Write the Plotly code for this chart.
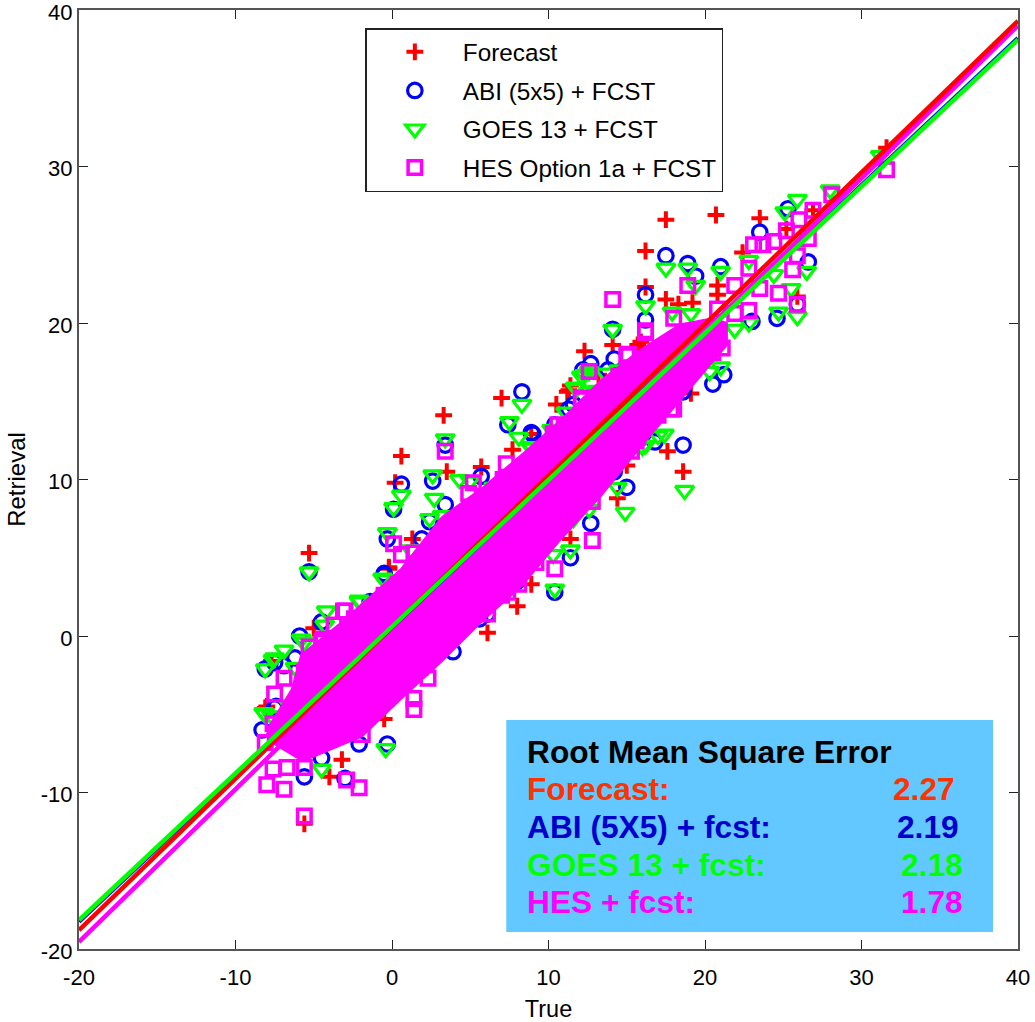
import plotly.graph_objects as go

# Hand-read outliers (true, retrieval) per series
forecast_x = [31.6,17.5,20.7,23.5,16.2,16.2,12.3,14.1,19.1,17.6,18.6,14.4,7.0,3.3,0.6,0.2,-5.3,6.1,8.0,8.9,3.5,5.7,7.7,10.5,11.3,8.9,1.3,-0.2,15.0,11.4,3.6,2.0,17.5,18.3,19.2,20.8,20.8,15.7,11.2,11.4,22.4,25.9,25.2,26.9,-0.5,-3.2,-4.0,-5.6,-8.1,-5.0,-7.7,-0.2,-8.0,2.2,15.9,13.2]
forecast_y = [31.2,26.6,26.9,26.7,24.6,22.3,18.2,18.6,15.5,11.8,10.5,8.8,15.2,14.1,11.5,9.8,5.3,0.2,1.9,3.3,10.5,10.8,11.9,14.8,15.7,12.9,6.2,4.3,10.9,6.2,-0.4,-1.2,21.5,21.2,21.3,22.4,21.8,18.6,15.6,16.0,24.5,21.7,26.0,27.2,-5.3,-7.9,-9.0,-12.0,-4.6,0.5,-1.6,4.4,-4.5,-2.0,18.8,16.7]

abi_x = [8.3,8.9,7.4,5.7,0.6,2.6,3.4,3.4,0.1,-0.3,1.9,2.4,-0.5,3.9,12.7,15.0,11.4,10.4,5.6,11.6,10.4,12.2,13.8,17.5,18.9,19.4,21.0,23.5,26.6,25.3,16.2,16.2,14.1,14.2,12.7,18.6,23.0,24.6,21.2,20.5,25.9,-0.3,-5.6,-3.0,-2.1,-5.3,-7.5,-8.1,-8.3,-7.5,-5.9,-0.5,-4.5,-6.2,-6.9,-7.4,-4.5,-1.4,6.1,8.0,14.2,11.3,9.0,16.8,18.6]
abi_y = [15.6,13.0,13.5,10.2,9.7,9.9,12.2,8.4,8.1,6.2,6.2,7.3,3.9,-1.0,7.2,9.5,5.0,2.8,1.1,14.8,13.5,17.0,17.0,24.3,23.8,23.0,23.6,25.8,23.9,27.3,21.8,20.2,19.6,17.7,17.4,12.2,20.1,20.3,16.7,16.1,21.2,-6.9,-9.0,-9.1,-6.9,4.1,-1.7,-2.1,-6.0,-4.6,0.0,4.0,-7.8,-1.4,-1.9,-4.5,0.9,2.2,1.4,3.5,10.5,14.5,12.9,12.4,15.6]

goes_x = [8.3,7.5,8.1,8.9,3.4,2.6,0.6,0.1,2.7,4.3,2.4,3.2,-0.3,-0.5,-2.1,14.9,14.4,11.6,11.4,10.3,10.4,6.1,4.2,2.7,12.3,13.1,14.5,17.5,18.9,19.4,21.0,14.1,16.2,17.9,19.1,20.3,21.0,16.2,17.0,17.4,21.9,22.8,24.7,25.9,26.5,25.5,25.1,25.9,28.0,24.4,22.8,12.6,11.8,13.6,18.7,31.2,-5.3,-8.1,-7.6,-6.9,-8.1,-7.7,-4.2,-2.1,-5.6,-4.3,-0.6,-0.4,-4.5,-0.6,2.5,-5.8,-7.5,-6.2,-6.6,-8.2,1.2,8.0,12.1,11.7,13.0,10.2,11.1,9.5,8.9,12.6,18.7,14.4,16.0,5.0,6.5,9.6]
goes_y = [14.8,13.7,12.7,12.1,12.6,10.3,9.0,8.2,8.8,10.0,7.5,7.7,6.6,3.6,2.3,7.9,9.5,7.5,5.5,5.2,3.0,2.4,0.5,-1.4,16.7,15.7,17.0,23.5,23.5,22.4,23.3,19.6,21.1,20.7,20.6,16.9,17.2,12.2,12.8,12.9,19.6,20.0,20.7,20.4,23.3,22.2,27.1,27.9,28.5,23.1,24.0,16.9,15.8,16.8,9.3,30.7,4.1,-2.1,-1.5,-0.9,-5.0,-5.1,1.6,2.2,-0.4,0.7,3.7,-7.2,-8.5,-4.6,-1.6,-0.2,-1.4,-2.0,-4.4,-4.9,5.5,4.2,16.6,15.9,15.6,13.2,14.3,11.9,12.0,8.1,16.4,11.1,12.1,9.9,9.5,11.0]

hes_x = [14.1,18.9,16.2,15.0,18.0,28.1,31.6,26.9,26.0,25.2,26.6,23.1,23.7,24.4,25.9,25.6,22.8,21.9,24.7,25.9,22.8,23.5,21.9,20.8,20.5,21.1,20.8,14.6,14.2,12.1,15.7,18.0,15.6,3.4,12.8,12.8,11.6,10.4,9.2,8.1,6.1,4.3,0.1,5.2,4.9,6.4,7.3,7.1,10.3,12.1,-0.5,-3.0,1.4,0.6,2.4,-5.6,-8.0,-6.9,-2.9,-2.1,-7.6,2.3,1.4,1.4,-7.5,-6.9,-5.3,-4.4,-3.1,-0.5,-8.1,-7.6,-5.6,-6.7,-1.9,-4.5,-3.7,-4.2,-5.6,-2.4,-1.3,0.4,7.4,2.7,4.9,7.0,15.1,10.4,11.0,14.5,15.7,16.2,17.8,10.2,10.6,12.6,16.1,15.5,17.0,15.3,12.6,10.8]
hes_y = [21.5,22.4,19.5,17.9,20.3,28.2,29.8,27.2,26.6,25.9,25.4,25.0,25.0,25.2,24.3,23.4,23.5,22.4,21.9,21.2,20.8,22.2,20.6,20.9,18.1,18.4,19.0,16.4,15.8,15.2,16.9,14.5,12.5,11.8,6.1,8.6,8.3,4.3,4.7,3.3,1.4,7.2,5.9,9.8,9.1,8.8,11.0,10.0,12.9,15.1,2.6,1.6,5.3,5.2,5.4,-11.5,-9.5,-9.8,-9.2,-9.7,-8.5,-2.7,-4.0,-4.7,-3.7,-2.7,-0.7,-0.2,1.6,2.5,-6.8,-5.6,-8.4,-8.4,-6.3,-0.4,0.7,-0.9,-2.3,1.1,1.7,3.3,2.8,-0.8,1.2,2.6,18.0,12.9,13.4,16.6,12.7,19.4,14.5,7.2,13.5,16.9,16.4,13.2,14.1,11.8,10.0,8.1]

# Envelope of the unresolvable solid cloud
cloud_upper_x = [-8.0,-7.5,-6.4,-5.8,-3.2,0.6,3.2,5.7,8.3,10.8,13.3,15.9,18.4,20.5,21.4]
cloud_upper_y = [-6.0,-5.2,-3.4,-1.2,0.9,4.3,7.6,9.4,11.6,13.8,16.3,18.3,19.9,20.3,20.0]
cloud_lower_x = [21.4,20.3,18.4,15.9,13.3,10.8,8.3,5.7,3.2,0.6,-1.9,-5.7,-8.0]
cloud_lower_y = [18.6,17.3,15.0,12.1,8.9,6.2,3.2,0.9,-1.6,-4.0,-6.4,-8.0,-6.6]

# Fit lines, read at the axis limits
fit_x = [-20, 40]
fit_abi = [-18.25, 38.2]
fit_hes = [-19.55, 39.0]
fit_forecast = [-18.8, 39.3]
fit_goes = [-18.15, 38.1]

tick_vals = [-20, -10, 0, 10, 20, 30, 40]
tick_text = ["-20", "-10", "0", "10", "20", "30", "40"]

# RMSE table
rmse_names = ["Forecast:", "ABI (5X5) + fcst:", "GOES 13 + fcst:", "HES + fcst:"]
rmse_values = ["2.27", "2.19", "2.18", "1.78"]
rmse_colors = ["#FF3300", "#0000CC", "#00FF00", "#FF00FF"]
legend_names = ["Forecast", "ABI (5x5) + FCST", "GOES 13 + FCST", "HES Option 1a + FCST"]
RED, BLUE, GREEN, MAG = "#FF0000", "#0000FF", "#00FF00", "#FF00FF"
FONT = "Liberation Sans"

fig = go.Figure()
def pts(x, y, name, sym, size, color, lw):
    fig.add_trace(go.Scatter(x=x, y=y, mode="markers", name=name, legendgroup=name,
        marker=dict(symbol=sym, size=size, color=color, line=dict(color=color, width=lw))))

pts(forecast_x, forecast_y, legend_names[0], "cross-thin", 12, RED, 4)
pts(abi_x, abi_y, legend_names[1], "circle-open", 14.5, BLUE, 3.2)
pts(goes_x, goes_y, legend_names[2], "triangle-down-open", 16, GREEN, 3.2)
pts(hes_x, hes_y, legend_names[3], "square-open", 13.5, MAG, 3.5)

fig.add_trace(go.Scatter(x=cloud_upper_x + cloud_lower_x, y=cloud_upper_y + cloud_lower_y,
    mode="lines", fill="toself", fillcolor=MAG, line=dict(color=MAG, width=2), showlegend=False))

for ys, c in [(fit_abi, BLUE), (fit_hes, MAG), (fit_forecast, RED), (fit_goes, GREEN)]:
    fig.add_trace(go.Scatter(x=fit_x, y=ys, mode="lines", line=dict(color=c, width=4.5), showlegend=False))

axis = dict(range=[-20, 40], tickmode="array", tickvals=tick_vals, ticktext=tick_text,
            ticks="inside", ticklen=9, tickwidth=1.3, tickcolor="#222",
            showline=True, linecolor="#555", linewidth=2, mirror="ticks",
            showgrid=False, zeroline=False, ticklabeloverflow="allow",
            tickfont=dict(family=FONT, size=22, color="black"))
fig.update_xaxes(**axis, ticklabelstandoff=8,
                 title=dict(text="True", font=dict(family=FONT, size=23.5, color="black"), standoff=15))
fig.update_yaxes(**axis, ticklabelshift=2,
                 title=dict(text="Retrieval", font=dict(family=FONT, size=24, color="black"), standoff=8))

L, R, T, B = 78.5, 1018, 10, 949
def xp(px): return (px - L) / (R - L)
def yp(py): return (B - py) / (B - T)

fig.add_shape(type="rect", xref="paper", yref="paper", x0=xp(506), x1=xp(993), y0=yp(932), y1=yp(720),
              fillcolor="#63C8FF", line_width=0, layer="above")

def txt(s, x, y, color, anchor="left"):
    fig.add_annotation(text=f"<b>{s}</b>", xref="paper", yref="paper", x=xp(x), y=yp(y), showarrow=False,
        xanchor=anchor, yanchor="middle", font=dict(family=FONT, size=31.7, color=color))

txt("Root Mean Square Error", 525, 752, "black")
rows = [789, 827, 865, 902]
right = [957, 961, 965, 965]
for n, v, c, r, ry in zip(rmse_names, rmse_values, rmse_colors, right, rows):
    txt(n, 525, ry, c)
    txt(v, r, ry, c, "right")

fig.update_layout(
    width=1035, height=1022, margin=dict(l=L, r=1035 - R, t=T, b=1022 - B, autoexpand=False),
    paper_bgcolor="white", plot_bgcolor="white", font=dict(family=FONT, color="black"),
    legend=dict(x=xp(365), y=yp(28), xanchor="left", yanchor="top", bgcolor="white",
                bordercolor="#222", borderwidth=1.5, font=dict(family=FONT, size=24.3),
                itemwidth=86, tracegroupgap=4, entrywidth=263, entrywidthmode="pixels",
                itemclick=False, itemdoubleclick=False),
)
fig.write_html("out.html", config={"displayModeBar": False},
               post_script="document.body.style.margin='0';document.body.style.overflow='hidden';")
